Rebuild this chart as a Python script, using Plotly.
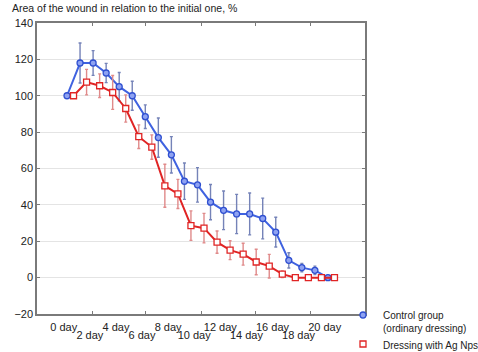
import plotly.graph_objects as go

days = list(range(21))
control = [100, 118, 118, 112.5, 105, 100, 88.5, 77, 67.5, 53, 51, 41.5, 37, 35, 35, 32.5, 25, 9.5, 5.5, 4, 0]
control_err = [0, 11, 6.8, 5.3, 7.8, 8, 6.5, 10.8, 10, 10, 9.5, 9.7, 10.6, 10.8, 11.5, 11.2, 8.2, 4.2, 2.3, 2.3, 0]
agnps = [100, 107.5, 105.5, 101.8, 93, 77.5, 71.8, 50.5, 46, 28.6, 27.2, 19.5, 15.1, 12.9, 8.6, 6.3, 1.9, 0, 0, 0, 0]
agnps_err = [0, 7, 6.5, 9.3, 7.5, 6.5, 6.7, 11.8, 8, 8.1, 8.1, 6.1, 5.2, 6, 7, 6.5, 1.8, 0, 0, 0, 0]
row1_days = [0, 4, 8, 12, 16, 20]
row2_days = [2, 6, 10, 14, 18]
minor_ticks = [1.92, 6.05, 10.27, 14.48, 18.7]
y_ticks = [-20, 0, 20, 40, 60, 80, 100, 120, 140]
title = "Area of the wound in relation to the initial one, %"
name_control = "Control group<br>(ordinary dressing)"
name_agnps = "Dressing with Ag Nps"

BLUE = "#3f62e0"
RED = "#e02424"
FONT = "Liberation Sans, Arial, sans-serif"
XR = [-2.3, 22.84]
RED_SHIFT = 0.5
LBL_SHIFT = -0.25

fig = go.Figure()
fig.add_trace(go.Scatter(
    x=days, y=control, mode="lines+markers", showlegend=False,
    line=dict(color=BLUE, width=2),
    marker=dict(symbol="circle", size=6, color="#8ea2f2", line=dict(color="#2f4fd0", width=1.3)),
    error_y=dict(type="data", array=control_err, color="#7583b8", thickness=1.4, width=1.5),
))
fig.add_trace(go.Scatter(
    x=[d + RED_SHIFT for d in days], y=agnps, mode="lines+markers", showlegend=False,
    line=dict(color=RED, width=2),
    marker=dict(symbol="square", size=6, color="white", line=dict(color=RED, width=1.3)),
    error_y=dict(type="data", array=agnps_err, color="#e08a8a", thickness=1.4, width=1.5),
))
# legend entries
fig.add_trace(go.Scatter(
    x=[None], y=[None], mode="markers", name=name_control,
    marker=dict(symbol="circle", size=6, color="#8ea2f2", line=dict(color="#2f4fd0", width=1.3)),
))
fig.add_trace(go.Scatter(
    x=[None], y=[None], mode="markers", name=name_agnps,
    marker=dict(symbol="square", size=6, color="white", line=dict(color=RED, width=1.3)),
))
# dummy traces for the overlay axes
fig.add_trace(go.Scatter(x=[None], y=[None], xaxis="x2", showlegend=False, hoverinfo="skip"))
fig.add_trace(go.Scatter(x=[None], y=[None], xaxis="x3", showlegend=False, hoverinfo="skip"))

axis_font = dict(family=FONT, size=11, color="#222222")
fig.update_layout(
    width=478, height=352,
    margin=dict(l=37, r=113, t=23, b=38, pad=0, autoexpand=False),
    paper_bgcolor="white", plot_bgcolor="white",
    font=dict(family=FONT, size=11, color="#222222"),
    title=dict(text=title, x=12 / 478, xref="container", xanchor="left",
               y=1 - 8 / 352, yref="container", yanchor="middle",
               font=dict(family=FONT, size=10.5, color="#222222")),
    xaxis=dict(range=XR, tickvals=[d + LBL_SHIFT for d in row1_days],
               ticktext=[f"{d} day" for d in row1_days], ticks="",
               showgrid=False, zeroline=False, showline=True, linecolor="#7a7a7a",
               linewidth=1.5, mirror=True, tickfont=axis_font, ticklabelstandoff=2),
    xaxis2=dict(range=XR, overlaying="x", side="bottom", tickvals=[d + LBL_SHIFT for d in row2_days],
                ticktext=[f"{d} day" for d in row2_days], ticks="",
                showgrid=False, zeroline=False, showline=False, tickfont=axis_font,
                ticklabelstandoff=13),
    xaxis3=dict(range=XR, overlaying="x", side="bottom", tickvals=minor_ticks,
                showticklabels=False, ticks="inside", ticklen=3, tickcolor="#7a7a7a",
                mirror="ticks", showgrid=False, zeroline=False, showline=False),
    yaxis=dict(range=[-20, 140], tickvals=y_ticks, ticks="inside", ticklen=3,
               tickcolor="#7a7a7a", mirror="ticks", showline=True, linecolor="#7a7a7a",
               linewidth=1.5, showgrid=True, gridcolor="#e4e4e4", gridwidth=1,
               zeroline=True, zerolinecolor="#e4e4e4", zerolinewidth=1,
               tickfont=axis_font),
    legend=dict(x=(343 - 37) / 328, y=12 / 291, xanchor="left", yanchor="top",
                bgcolor="rgba(0,0,0,0)", font=dict(family=FONT, size=10, color="#222222"),
                itemwidth=30, tracegroupgap=0, borderwidth=0, valign="top"),
)

fig.write_html("out.html")
